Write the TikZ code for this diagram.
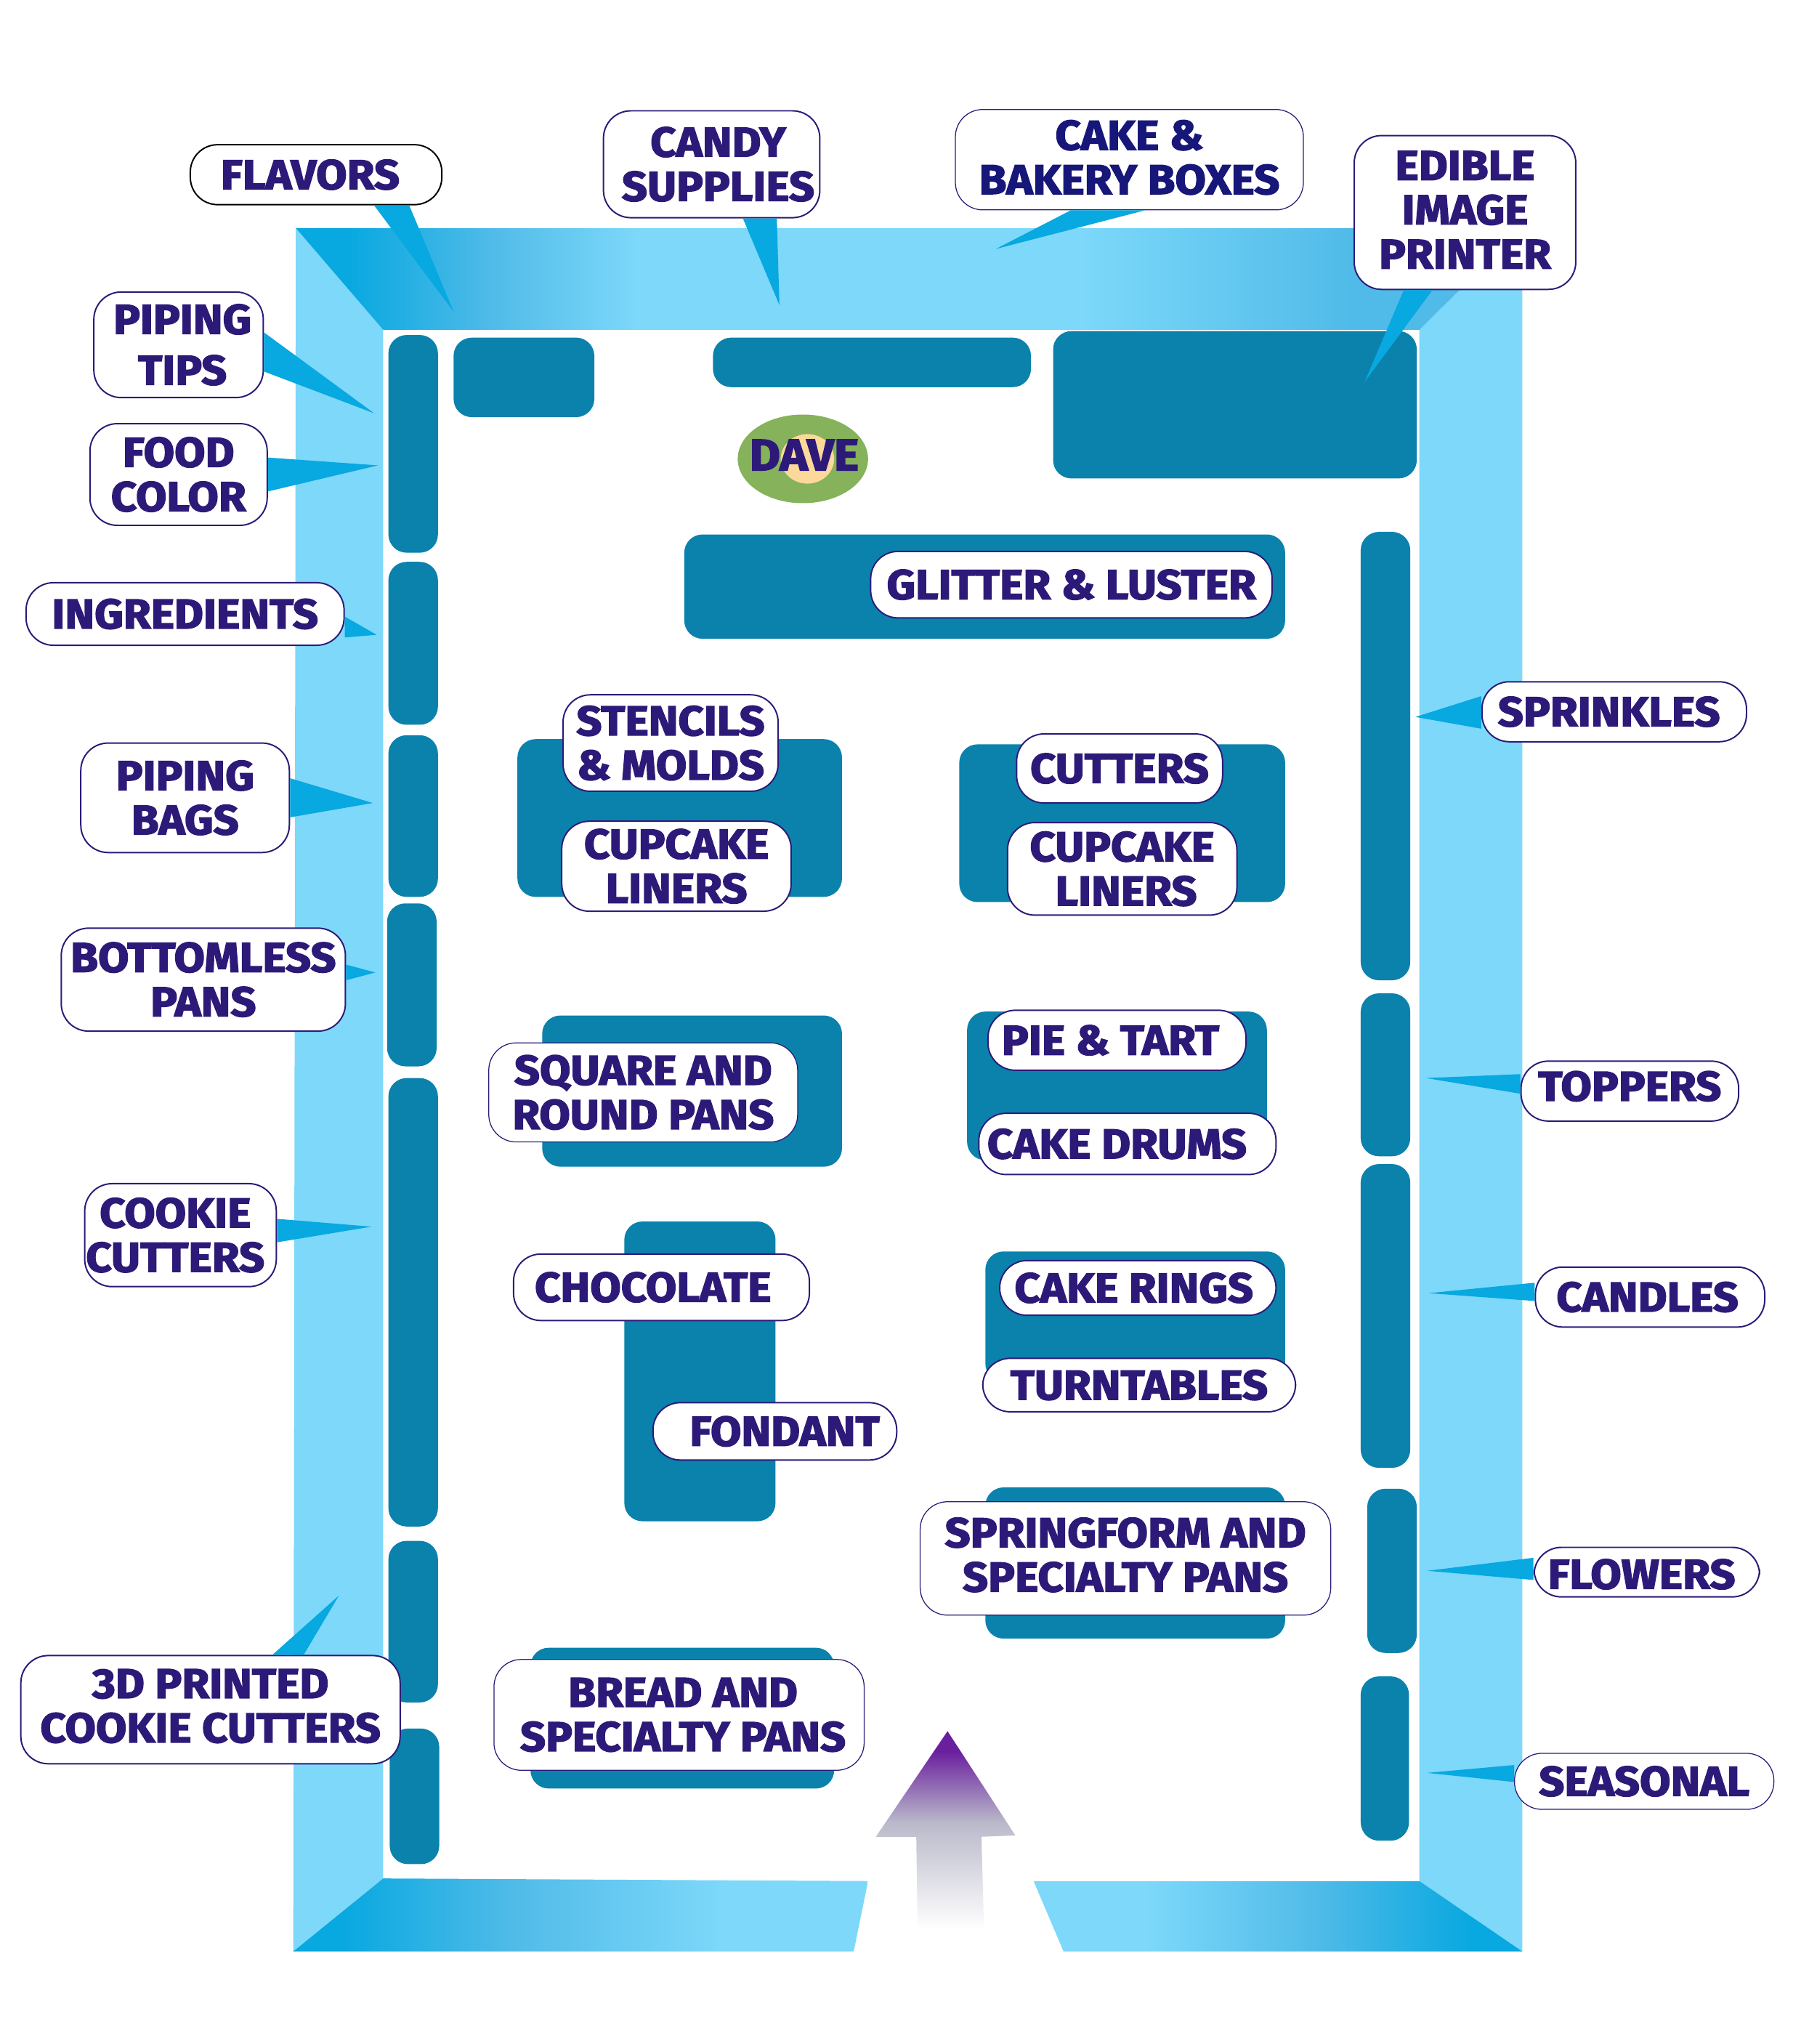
\documentclass[tikz,border=0pt]{standalone}
\usepackage{fontspec}
\newfontfamily\tagfont{Fira Sans}[BoldFeatures={FakeBold=2.6,FakeStretch=1.07}]
\usetikzlibrary{positioning}

\definecolor{frameblue}{HTML}{7DD8FA}
\definecolor{deepblue}{HTML}{08A8E0}
\definecolor{midblue}{HTML}{50BBE8}
\definecolor{shelfblue}{HTML}{0A82AC}
\definecolor{tagink}{HTML}{2D1A78}
\definecolor{navyink}{HTML}{17177A}
\definecolor{davegreen}{HTML}{85B25B}
\definecolor{davetan}{HTML}{FCD99B}
\definecolor{arrowpurple}{HTML}{6A1F9E}
\definecolor{arrowgrey}{HTML}{B9B9CA}

\pgfdeclarehorizontalshading{topwall}{100bp}{color(0bp)=(deepblue); color(27.1bp)=(deepblue); color(33bp)=(midblue); color(38.9bp)=(frameblue); color(57bp)=(frameblue); color(68bp)=(midblue); color(100bp)=(midblue)}
\pgfdeclarehorizontalshading{leftwall}{100bp}{color(0bp)=(deepblue); color(29.2bp)=(deepblue); color(44bp)=(midblue); color(62.4bp)=(frameblue); color(100bp)=(frameblue)}
\pgfdeclarehorizontalshading{rightwall}{100bp}{color(0bp)=(frameblue); color(36.6bp)=(frameblue); color(54bp)=(midblue); color(69.9bp)=(deepblue); color(100bp)=(deepblue)}
\pgfdeclareverticalshading{entryfade}{100bp}{color(0bp)=(white); color(25bp)=(white); color(52bp)=(arrowgrey); color(70bp)=(arrowpurple); color(100bp)=(arrowpurple)}

\tikzset{
  shelf/.style={fill=shelfblue, rounded corners=14pt},
  tag/.style={draw=tagink, fill=white, line width=1.1pt, rounded corners=21pt, inner sep=0pt, align=center,
    text=tagink, font=\tagfont\bfseries\fontsize{32}{34}\selectfont},
  thintag/.style={tag, line width=0.7pt},
  textdown/.style={execute at begin node={\rule{0pt}{#1}}},
  textup/.style={execute at end node={\rule[-#1]{0pt}{0pt}}},
  tailfill/.style={fill=deepblue},
}

\begin{document}
\begin{tikzpicture}[x=1pt, y=-1pt]

  %% ==== walls ====
  \fill[frameblue] (227,175) -- (294,253) -- (294,1441) -- (225,1497) -- cycle;
  \fill[frameblue] (1168,175) -- (1089,253) -- (1089,1443) -- (1168,1497) -- cycle;
  \shade[shading=topwall] (227,175) -- (1168,175) -- (1089,253) -- (294,253) -- cycle;
  \shade[shading=leftwall] (225,1497) -- (294,1441) -- (666,1443) -- (655,1497) -- cycle;
  \shade[shading=rightwall] (793,1443) -- (1089,1443) -- (1168,1497) -- (816,1497) -- cycle;

  %% ==== shelves ====
  \fill[shelf] (298,257) rectangle (336,424);
  \fill[shelf] (298,431) rectangle (336,556);
  \fill[shelf] (298,564) rectangle (336,688);
  \fill[shelf] (297,693) rectangle (335,818);
  \fill[shelf] (298,827) rectangle (336,1171);
  \fill[shelf] (298,1182) rectangle (336,1306);
  \fill[shelf] (299,1326) rectangle (337,1430);
  \fill[shelf] (348,259) rectangle (456,320);
  \fill[shelf] (547,259) rectangle (791,297);
  \fill[shelf] (808,254) rectangle (1087,367);
  \fill[shelf] (525,410) rectangle (986,490);
  \fill[shelf] (397,567) rectangle (646,688);
  \fill[shelf] (736,571) rectangle (986,692);
  \fill[shelf] (416,779) rectangle (646,895);
  \fill[shelf] (742,776) rectangle (972,890);
  \fill[shelf] (479,937) rectangle (595,1167);
  \fill[shelf] (756,960) rectangle (986,1060);
  \fill[shelf] (756,1141) rectangle (986,1257);
  \fill[shelf] (407,1264) rectangle (640,1372);
  \fill[shelf] (1044,408) rectangle (1082,752);
  \fill[shelf] (1044,762) rectangle (1082,887);
  \fill[shelf] (1044,893) rectangle (1082,1126);
  \fill[shelf] (1049,1142) rectangle (1087,1268);
  \fill[shelf] (1044,1286) rectangle (1081,1412);

  %% ==== entrance arrow ====
  \shade[shading=entryfade] (727,1328) -- (779,1408) -- (753,1409) -- (755,1480) -- (704,1480) -- (703,1409) -- (672,1409) -- cycle;

  %% ==== dave ====
  \fill[davegreen] (616,352) ellipse [x radius=50, y radius=34];
  \fill[davetan] (619.5,352) ellipse [x radius=20.5, y radius=19];
  \node[anchor=center, inner sep=0pt, text=tagink, font=\tagfont\bfseries\fontsize{34}{34}\selectfont] (dave) at (617,349) {DAVE};

  %% ==== labels ====
  \node[tag, draw=black, minimum width=193pt, minimum height=46pt] (flavors) at (242.5,134) {FLAVORS\hspace*{9pt}};
  \node[tag, textdown=34pt, minimum width=166pt, minimum height=82pt] (candy) at (546,126) {\hspace*{10pt}CANDY\\\hspace*{10pt}SUPPLIES};
  \node[thintag, text=navyink, textup=4pt, minimum width=267pt, minimum height=77pt] (boxes) at (866.5,122.5) {CAKE \&\\BAKERY BOXES};
  \node[tag, textup=4pt, minimum width=170pt, minimum height=118pt] (printer) at (1124,163) {EDIBLE\\IMAGE\\PRINTER};
  \node[tag, minimum width=130pt, minimum height=81pt] (tips) at (137,264.5) {\hspace*{6pt}PIPING\\[5pt]\hspace*{6pt}TIPS};
  \node[tag, minimum width=136pt, minimum height=78pt] (foodcolor) at (137,364) {FOOD\\COLOR};
  \node[tag, minimum width=244pt, minimum height=48pt] (ingredients) at (142,471) {INGREDIENTS};
  \node[tag, textdown=36pt, minimum width=160pt, minimum height=84pt] (bags) at (142,612) {PIPING\\BAGS};
  \node[tag, textdown=34pt, minimum width=218pt, minimum height=79pt] (bottomless) at (156,751.5) {BOTTOMLESS\\PANS};
  \node[tag, textdown=36pt, minimum width=147pt, minimum height=79pt] (cookie) at (138.5,947.5) {COOKIE\hspace*{8pt}\\CUTTERS\hspace*{8pt}};
  \node[tag, textup=6pt, minimum width=291pt, minimum height=83pt] (printed) at (161.5,1311.5) {3D PRINTED\\COOKIE CUTTERS};
  \node[tag, minimum width=308pt, minimum height=51pt] (glitter) at (822,448.5) {GLITTER \& LUSTER};
  \node[tag, textdown=36pt, minimum width=165pt, minimum height=74pt] (stencils) at (514.5,570) {STENCILS\\\& MOLDS};
  \node[tag, minimum width=176pt, minimum height=69pt] (linersl) at (519,664.5) {CUPCAKE\\LINERS};
  \node[tag, minimum width=158pt, minimum height=53pt] (cutters) at (859,589.5) {CUTTERS};
  \node[tag, minimum width=176pt, minimum height=71pt] (linersr) at (861,666.5) {CUPCAKE\\\hspace*{6pt}LINERS};
  \node[thintag, textdown=34pt, minimum width=237pt, minimum height=76pt] (square) at (493.5,838) {SQUARE AND\\ROUND PANS};
  \node[tag, minimum width=198pt, minimum height=46pt] (pie) at (857,798) {PIE \& TART\hspace*{10pt}};
  \node[tag, minimum width=228pt, minimum height=47pt] (drums) at (865,877.5) {CAKE DRUMS\hspace*{16pt}};
  \node[tag, minimum width=227pt, minimum height=51pt] (chocolate) at (507.5,987.5) {CHOCOLATE\hspace*{13pt}};
  \node[tag, minimum width=187pt, minimum height=44pt] (fondant) at (594.5,1098) {\hspace*{15pt}FONDANT};
  \node[tag, minimum width=212pt, minimum height=42pt] (rings) at (873,988) {CAKE RINGS\hspace*{6pt}};
  \node[tag, minimum width=240pt, minimum height=41pt] (turntables) at (874,1062.5) {TURNTABLES};
  \node[thintag, textup=6pt, minimum width=315pt, minimum height=87pt] (springform) at (863.5,1195.5) {SPRINGFORM AND\\SPECIALTY PANS};
  \node[thintag, minimum width=284pt, minimum height=85pt] (bread) at (521,1315.5) {\hspace*{6pt}BREAD AND\\\hspace*{6pt}SPECIALTY PANS};
  \node[tag, minimum width=203pt, minimum height=46pt] (sprinkles) at (1238.5,546) {SPRINKLES\hspace*{8pt}};
  \node[tag, textup=8pt, minimum width=167pt, minimum height=46pt] (toppers) at (1250.5,837) {TOPPERS};
  \node[tag, minimum width=176pt, minimum height=46pt] (candles) at (1266,995) {CANDLES\hspace*{4pt}};
  \node[tag, textdown=26pt, minimum width=173pt, minimum height=38pt] (flowers) at (1263.5,1206) {FLOWERS\hspace*{8pt}};
  \node[thintag, minimum width=199pt, minimum height=43pt] (seasonal) at (1261.5,1366.5) {SEASONAL};

  %% ==== pointers ====
  \coordinate (flavorstip) at (348,239);
  \coordinate (candytip) at (598,234);
  \coordinate (boxestip) at (764,191);
  \coordinate (printertip) at (1047,293);
  \coordinate (tipstip) at (287,317);
  \coordinate (foodcolortip) at (290,357);
  \coordinate (ingredientstip) at (289,487);
  \coordinate (bagstip) at (286,616);
  \coordinate (bottomlesstip) at (288,746);
  \coordinate (cookietip) at (285,941);
  \coordinate (printedtip) at (260,1224);
  \coordinate (sprinklestip) at (1086,550);
  \coordinate (topperstip) at (1094,827);
  \coordinate (candlestip) at (1096,992);
  \coordinate (flowerstip) at (1095,1205);
  \coordinate (seasonaltip) at (1095,1360);
  \fill[tailfill] ([xshift=44.5pt]flavors.south) -- (flavorstip) -- ([xshift=71.5pt]flavors.south) -- cycle;
  \fill[tailfill] ([xshift=24pt]candy.south) -- (candytip) -- ([xshift=50pt]candy.south) -- cycle;
  \fill[tailfill] ([xshift=-45pt]boxes.south) -- (boxestip) -- ([xshift=12pt]boxes.south) -- cycle;
  \fill[tailfill] ([xshift=-47pt]printer.south) -- (printertip) -- ([xshift=-25pt]printer.south) -- cycle;
  \fill[tailfill] ([yshift=9.5pt]tips.east) -- (tipstip) -- ([yshift=-20.5pt]tips.east) -- cycle;
  \fill[tailfill] ([yshift=13pt]foodcolor.east) -- (foodcolortip) -- ([yshift=-13pt]foodcolor.east) -- cycle;
  \fill[tailfill] ([yshift=-2pt]ingredients.east) -- (ingredientstip) -- ([yshift=-18pt]ingredients.east) -- cycle;
  \fill[tailfill] ([yshift=15pt]bags.east) -- (bagstip) -- ([yshift=-15pt]bags.east) -- cycle;
  \fill[tailfill] ([yshift=11.5pt]bottomless.east) -- (bottomlesstip) -- ([yshift=-0.5pt]bottomless.east) -- cycle;
  \fill[tailfill] ([yshift=12.5pt]cookie.east) -- (cookietip) -- ([yshift=-5.5pt]cookie.east) -- cycle;
  \fill[tailfill] ([xshift=47.5pt]printed.north) -- (printedtip) -- ([xshift=71.5pt]printed.north) -- cycle;
  \fill[tailfill] ([yshift=12pt]sprinkles.west) -- (sprinklestip) -- ([yshift=-13pt]sprinkles.west) -- cycle;
  \fill[tailfill] ([yshift=13pt]toppers.west) -- (topperstip) -- ([yshift=-2pt]toppers.west) -- cycle;
  \fill[tailfill] ([yshift=11pt]candles.west) -- (candlestip) -- ([yshift=-3pt]candles.west) -- cycle;
  \fill[tailfill] ([yshift=11pt]flowers.west) -- (flowerstip) -- ([yshift=-6pt]flowers.west) -- cycle;
  \fill[tailfill] ([yshift=12.5pt]seasonal.west) -- (seasonaltip) -- ([yshift=-0.5pt]seasonal.west) -- cycle;

  \pgfresetboundingbox
  \path[use as bounding box] (0,0) rectangle (1394,1568);
\end{tikzpicture}
\end{document}
